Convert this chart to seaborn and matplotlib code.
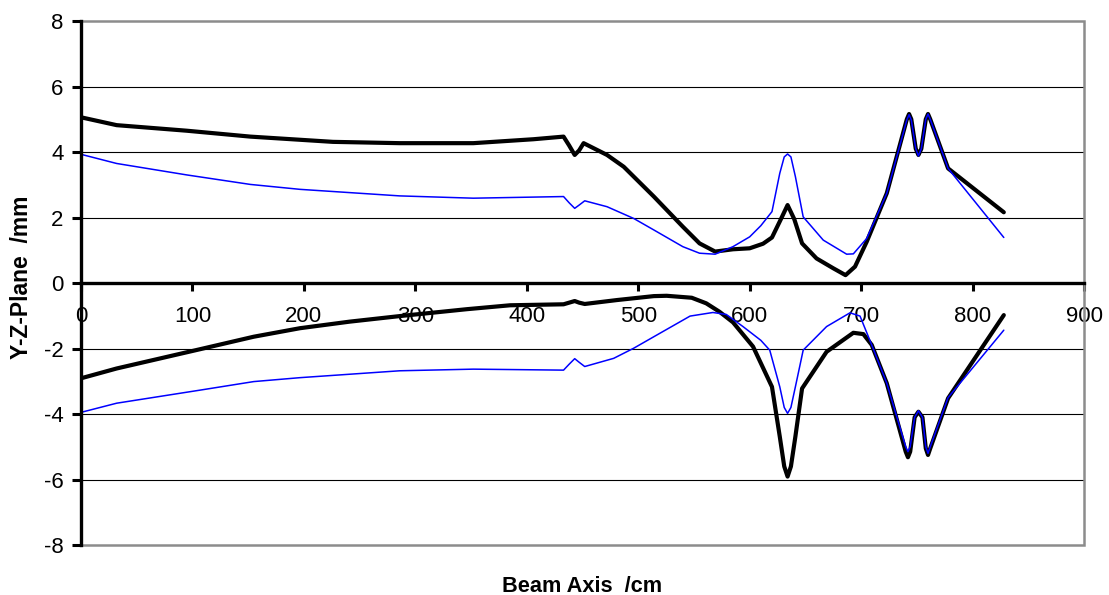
import matplotlib
matplotlib.use("Agg")
import matplotlib.pyplot as plt
import matplotlib.patches as mpatches
import seaborn as sns

# Beam envelope along the beam axis (cm) in the Y-Z plane (mm)
upper_black_x = [0, 32, 95, 152, 226, 286, 352, 406, 433, 438, 443, 447, 451, 472, 487,
                 514, 540, 555, 569, 585, 600, 612, 620, 628, 634, 640, 647, 660, 675, 686,
                 694.5, 705, 723, 741, 743, 745, 749, 751.4, 754, 758, 760, 762, 778, 828]
upper_black_y = [5.06, 4.82, 4.65, 4.47, 4.31, 4.27, 4.27, 4.39, 4.47, 4.2, 3.91, 4.05, 4.27, 3.91, 3.55,
                 2.64, 1.72, 1.21, 0.96, 1.03, 1.06, 1.2, 1.39, 1.95, 2.38, 1.95, 1.21, 0.75, 0.45, 0.24,
                 0.50, 1.26, 2.74, 5.0, 5.16, 5.0, 4.1, 3.91, 4.1, 5.0, 5.16, 5.0, 3.50, 2.16]

upper_blue_x = [0, 32, 95, 152, 196.5, 286, 352, 433, 438, 443, 447, 452, 472, 496,
                514, 540, 555, 569, 585, 600, 610, 620, 627, 631, 634, 637, 641, 648, 666, 687,
                693, 705, 723, 741, 743, 745, 749, 751.4, 754, 758, 760, 762, 778, 828]
upper_blue_y = [3.93, 3.65, 3.30, 3.01, 2.86, 2.66, 2.59, 2.64, 2.45, 2.28, 2.38, 2.51, 2.33, 1.97,
                1.62, 1.11, 0.91, 0.88, 1.11, 1.41, 1.75, 2.18, 3.35, 3.85, 3.94, 3.85, 3.25, 2.02, 1.31, 0.88,
                0.89, 1.36, 2.74, 4.98, 5.14, 4.98, 4.1, 3.88, 4.1, 5.0, 5.16, 5.0, 3.50, 1.39]

lower_black_x = [0, 32, 107, 155, 196.5, 241, 286, 346, 385, 433, 438, 443, 447, 452, 481,
                 514, 525.5, 548, 561, 573, 585, 603, 620, 627, 631, 634, 637, 641, 647, 669,
                 693, 702, 709.5, 723, 740, 742, 744, 748, 751.4, 755, 758, 760, 762, 778, 828]
lower_black_y = [-2.91, -2.61, -2.02, -1.64, -1.38, -1.18, -1.01, -0.80, -0.68, -0.65, -0.6, -0.55, -0.6, -0.64, -0.52,
                 -0.40, -0.39, -0.45, -0.62, -0.88, -1.20, -1.94, -3.17, -4.69, -5.6, -5.91, -5.6, -4.69, -3.22, -2.10,
                 -1.52, -1.56, -1.89, -3.06, -5.15, -5.32, -5.15, -4.1, -3.93, -4.1, -5.05, -5.25, -5.05, -3.52, -0.98]

lower_blue_x = [0, 32, 107, 155, 196.5, 286, 352, 433, 438, 443, 447, 452, 478, 496,
                514, 546.5, 567, 579, 594, 610, 618, 627, 631, 634, 637, 641, 648, 669, 690,
                699, 709.5, 723, 740, 742, 744, 748, 751.4, 755, 758, 760, 762, 778, 828]
lower_blue_y = [-3.95, -3.67, -3.27, -3.01, -2.89, -2.68, -2.63, -2.66, -2.48, -2.31, -2.42, -2.55, -2.30, -1.99,
                -1.64, -1.01, -0.90, -0.96, -1.33, -1.75, -2.05, -3.17, -3.8, -3.98, -3.8, -3.17, -2.05, -1.33, -0.91,
                -1.01, -1.89, -3.06, -5.0, -5.15, -5.0, -4.1, -3.90, -4.1, -5.0, -5.20, -5.0, -3.50, -1.44]

x_ticks = [0, 100, 200, 300, 400, 500, 600, 700, 800, 900]
y_ticks = [-8, -6, -4, -2, 0, 2, 4, 6, 8]

sns.set_style("white")
plt.rcParams["font.family"] = ["Liberation Sans", "DejaVu Sans"]
plt.rcParams["text.color"] = "black"
plt.rcParams["xtick.color"] = "black"
plt.rcParams["ytick.color"] = "black"

fig = plt.figure(figsize=(11.09, 5.95), dpi=100)
ax = fig.add_axes([0.073, 0.084, 0.9045, 0.8807])

# horizontal grid
for yv in [-6, -4, -2, 2, 4, 6]:
    ax.axhline(yv, color="black", lw=0.8, zorder=0)

# plot-area frame
ax.add_patch(mpatches.Rectangle((0, 0), 1, 1, transform=ax.transAxes, fill=False,
                                edgecolor="#8c8c8c", lw=1.8, zorder=1, clip_on=False))

line_kw = dict(estimator=None, sort=False, ax=ax)
for xs, ys, col, lw, z in [
    (upper_blue_x, upper_blue_y, "#0000ff", 1.1, 3),
    (lower_blue_x, lower_blue_y, "#0000ff", 1.1, 3),
    (upper_black_x, upper_black_y, "black", 3.0, 2),
    (lower_black_x, lower_black_y, "black", 3.0, 2),
]:
    sns.lineplot(x=xs, y=ys, color=col, lw=lw, zorder=z,
                 solid_capstyle="round", solid_joinstyle="round", **line_kw)

ax.set_xlim(0, 900)
ax.set_ylim(-8, 8)
ax.set_xticks(x_ticks)
ax.set_yticks(y_ticks)
ax.set_xticklabels([str(v) for v in x_ticks])
ax.set_yticklabels([str(v) for v in y_ticks])

for side in ["top", "right"]:
    ax.spines[side].set_visible(False)
ax.spines["bottom"].set_position(("data", 0))
for side in ["bottom", "left"]:
    ax.spines[side].set_linewidth(2.4)
    ax.spines[side].set_color("black")
    ax.spines[side].set_zorder(4)

ax.tick_params(axis="x", direction="out", length=5.5, width=2.2, color="black",
               labelsize=16, pad=11, bottom=True, labelcolor="black")
ax.tick_params(axis="y", direction="out", length=6.5, width=2.2, color="black",
               labelsize=16, pad=6, left=True, labelcolor="black")

ax.set_xlabel("")
ax.set_ylabel("")
fig.text(0.5253, 0.005, "Beam Axis  /cm", ha="center", va="baseline",
         fontsize=15.7, fontweight="bold", color="black")
fig.text(0.019, 0.534, "Y-Z-Plane  /mm", ha="center", va="center", rotation=90,
         fontsize=16.5, fontweight="bold", color="black")

fig.savefig("out.png", dpi=100)
